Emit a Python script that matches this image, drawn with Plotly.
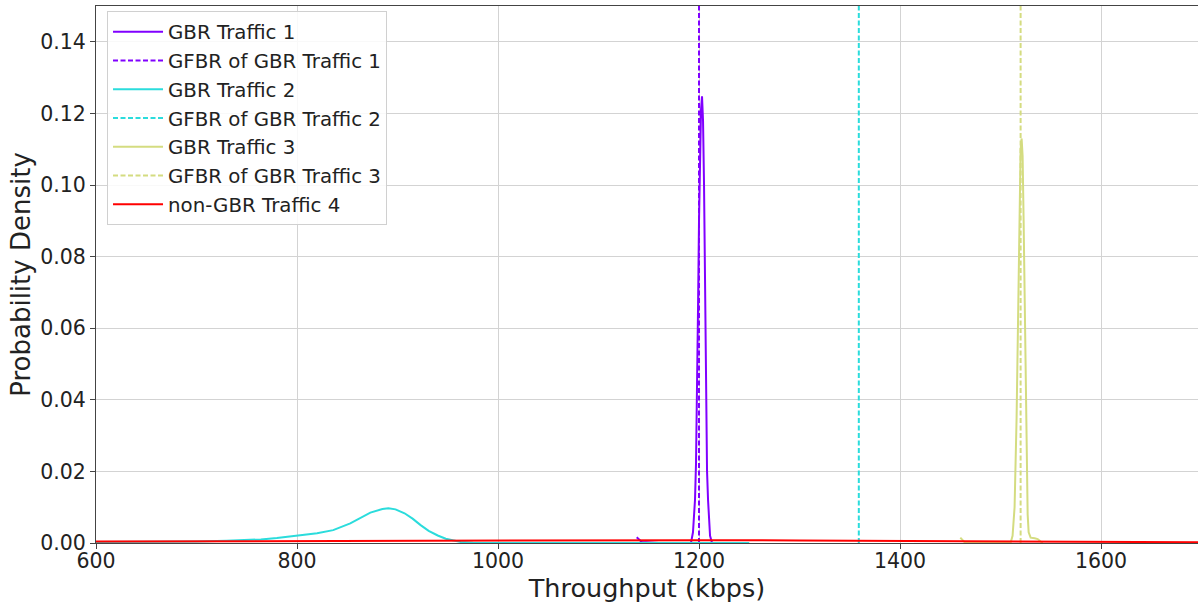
import plotly.graph_objects as go

# ---- data ----
gbr1_x = [1138, 1140, 1143, 1160, 1192, 1194, 1196, 1197, 1198, 1199, 1200, 1201, 1202, 1203,
          1204, 1205, 1206, 1207, 1208, 1209, 1210, 1211, 1213, 1215]
gbr1_y = [0.0016, 0.0010, 0.0003, 0.0, 0.0, 0.003, 0.012, 0.022, 0.040, 0.065, 0.090, 0.110, 0.121, 0.1248,
          0.118, 0.100, 0.070, 0.035, 0.020, 0.012, 0.006, 0.002, 0.0, 0.0]

gbr2_x = [600, 650, 700, 730, 764, 780, 800, 820, 836, 853, 873, 885, 891, 898, 907, 915, 923,
          931, 940, 948, 956, 963, 975, 1000, 1100, 1250]
gbr2_y = [0.0003, 0.0003, 0.0004, 0.0006, 0.0010, 0.0014, 0.0020, 0.0027, 0.0036, 0.0055, 0.0085, 0.0095,
          0.0097, 0.0094, 0.0083, 0.0068, 0.0050, 0.0034, 0.0021, 0.0012, 0.0007, 0.0003, 0.0001, 0.0, 0.0, 0.0]

gbr3_x = [1460, 1462, 1465, 1490, 1510, 1512, 1514, 1516, 1518, 1519, 1520, 1521, 1522, 1523, 1524,
          1525, 1526, 1527, 1528, 1530, 1534, 1537, 1540, 1542]
gbr3_y = [0.0015, 0.0008, 0.0, 0.0, 0.0, 0.002, 0.010, 0.035, 0.075, 0.098, 0.110, 0.113, 0.108, 0.090,
          0.065, 0.040, 0.020, 0.008, 0.003, 0.0015, 0.0013, 0.0011, 0.0004, 0.0]

ngbr4_x = [600, 700, 800, 900, 1000, 1100, 1200, 1300, 1400, 1500, 1600, 1700]
ngbr4_y = [0.0004, 0.0005, 0.0006, 0.0007, 0.0008, 0.0008, 0.0008, 0.0007, 0.0006, 0.0004, 0.0003, 0.0002]

gfbr_values = [1200, 1359, 1520]
gfbr_span = [0.0, 0.15]

series_names = ["GBR Traffic 1", "GBR Traffic 2", "GBR Traffic 3", "non-GBR Traffic 4"]
colors = ["#8000ff", "#2bdcdc", "#d4dc80", "#ff0000"]

x_ticks = [600, 800, 1000, 1200, 1400, 1600]
y_ticks = [0.00, 0.02, 0.04, 0.06, 0.08, 0.10, 0.12, 0.14]

curves = [(gbr1_x, gbr1_y), (gbr2_x, gbr2_y), (gbr3_x, gbr3_y)]

fig = go.Figure()
for i, (cx, cy) in enumerate(curves):
    fig.add_trace(go.Scatter(x=cx, y=cy, mode="lines", name=series_names[i],
                             line=dict(color=colors[i], width=2)))
    fig.add_trace(go.Scatter(x=[gfbr_values[i], gfbr_values[i]], y=gfbr_span, mode="lines",
                             name="GFBR of " + series_names[i],
                             line=dict(color=colors[i], width=2, dash="5px,2.5px")))
fig.add_trace(go.Scatter(x=ngbr4_x, y=ngbr4_y, mode="lines", name=series_names[3],
                         line=dict(color=colors[3], width=2)))

font_family = "DejaVu Sans"
fig.update_layout(
    width=1198, height=605,
    margin=dict(l=96, r=0, t=6, b=62, autoexpand=False),
    paper_bgcolor="white", plot_bgcolor="white",
    font=dict(family=font_family, size=20, color="#222222"),
    showlegend=True,
    legend=dict(x=0.01, y=0.99, xanchor="left", yanchor="top",
                bgcolor="rgba(255,255,255,0.85)", bordercolor="#d0d0d0", borderwidth=1,
                font=dict(family=font_family, size=19.8, color="#222222"),
                itemwidth=50, tracegroupgap=0),
)
fig.update_xaxes(range=[600, 1696.5], tickvals=x_ticks, ticktext=[str(v) for v in x_ticks],
                 automargin=False, ticklabelstandoff=-6,
                 showgrid=True, gridcolor="#d3d3d3", gridwidth=1, zeroline=False,
                 showline=True, linecolor="#444444", linewidth=1, mirror=True,
                 ticks="outside", ticklen=5, tickcolor="#444444",
                 title=dict(text="Throughput (kbps)", font=dict(size=25.5), standoff=5),
                 tickfont=dict(size=20.5))
fig.update_yaxes(range=[0, 0.15], tickvals=y_ticks, ticktext=[f"{v:.2f}" for v in y_ticks],
                 automargin=False,
                 showgrid=True, gridcolor="#d3d3d3", gridwidth=1, zeroline=False,
                 showline=True, linecolor="#444444", linewidth=1, mirror=True,
                 ticks="outside", ticklen=5, tickcolor="#444444",
                 title=dict(text="Probability Density", font=dict(size=26), standoff=2),
                 tickfont=dict(size=20.5))

fig.write_html("out.html", config={"displayModeBar": False},
               post_script="document.body.style.margin='0';")
